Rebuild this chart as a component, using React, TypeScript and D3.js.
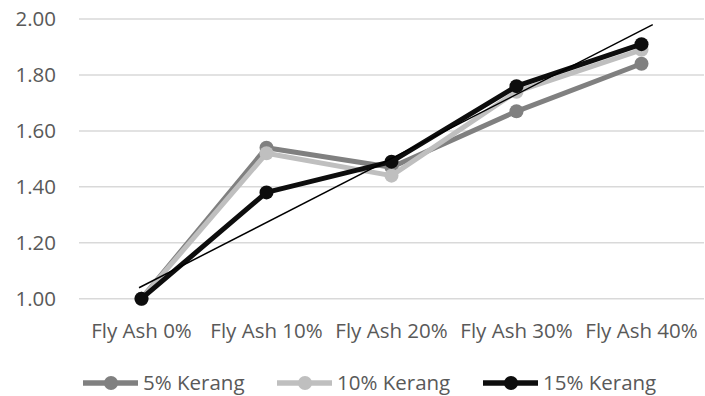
import React from "react";
import * as d3 from "d3";

const categories = ["Fly Ash 0%", "Fly Ash 10%", "Fly Ash 20%", "Fly Ash 30%", "Fly Ash 40%"];
const seriesNames = ["5% Kerang", "10% Kerang", "15% Kerang"];
const kerang5 = [1.0, 1.54, 1.47, 1.67, 1.84];
const kerang10 = [1.0, 1.52, 1.44, 1.74, 1.89];
const kerang15 = [1.0, 1.38, 1.49, 1.76, 1.91];
const yTicks = [1.0, 1.2, 1.4, 1.6, 1.8, 2.0];
// thin trend line: positions in category-index units and values
const trendIndex = [-0.02, 4.09];
const trendValue = [1.039, 1.98];

const colors = ["#808080", "#bfbfbf", "#0d0d0d"];
const W = 705;
const H = 396;
const FONT = "'Open Sans', sans-serif";
const TXT = "#595959";

export default function App() {
  const x0 = 79, x1 = 704;
  const band = d3.scaleBand<string>().domain(categories).range([x0, x1]);
  const cx = (i: number) => (band(categories[0]) as number) + band.bandwidth() / 2 + i * band.step();
  const y = d3.scaleLinear().domain([1, 2]).range([298.7, 19]);
  const allSeries = [kerang5, kerang10, kerang15];
  const line = d3.line<number>().x((_, i) => cx(i)).y((d) => y(d));

  const legendItems = [
    { lx: 83, tx: 143 },
    { lx: 277, tx: 337 },
    { lx: 483, tx: 543 },
  ];
  const legendY = 383;

  return (
    <svg width={W} height={H} style={{ position: "absolute", left: 0, top: 0, background: "#fff" }}>
      {yTicks.map((t) => (
        <g key={t}>
          <line x1={x0} x2={x1} y1={y(t)} y2={y(t)} stroke="#d9d9d9" strokeWidth={1.5} />
          <text x={56} y={y(t)} dy="0.36em" textAnchor="end" fontFamily={FONT} fontSize={20.5} fill={TXT}>
            {t.toFixed(2)}
          </text>
        </g>
      ))}
      {categories.map((c, i) => (
        <text key={c} x={cx(i)} y={338} textAnchor="middle" fontFamily={FONT} fontSize={20.5} fill={TXT}>
          {c}
        </text>
      ))}
      {allSeries.map((s, k) => (
        <g key={k}>
          <path d={line(s) || ""} fill="none" stroke={colors[k]} strokeWidth={5} strokeLinejoin="round" />
          {s.map((v, i) => (
            <circle key={i} cx={cx(i)} cy={y(v)} r={7} fill={colors[k]} />
          ))}
        </g>
      ))}
      <line
        x1={cx(0) + (trendIndex[0]) * band.step()}
        x2={cx(0) + (trendIndex[1]) * band.step()}
        y1={y(trendValue[0])}
        y2={y(trendValue[1])}
        stroke="#000"
        strokeWidth={1.5}
      />
      {seriesNames.map((n, k) => (
        <g key={n}>
          <line x1={legendItems[k].lx} x2={legendItems[k].lx + 55} y1={legendY} y2={legendY} stroke={colors[k]} strokeWidth={5.5} />
          <circle cx={legendItems[k].lx + 28} cy={legendY} r={7} fill={colors[k]} />
          <text x={legendItems[k].tx} y={legendY} dy="0.36em" fontFamily={FONT} fontSize={20.5} fill={TXT}>
            {n}
          </text>
        </g>
      ))}
    </svg>
  );
}
